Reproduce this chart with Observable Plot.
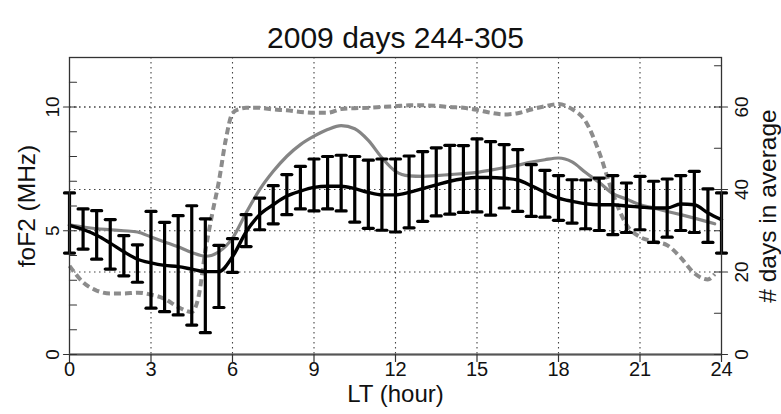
<!DOCTYPE html>
<html><head><meta charset="utf-8">
<script src="https://cdn.jsdelivr.net/npm/d3@7"></script>
<script src="https://cdn.jsdelivr.net/npm/@observablehq/plot@0.6"></script>
<style>body{margin:0;background:#fff;} svg{display:block;}</style>
</head><body><div id="chart"></div>
<script>
const title = "2009 days 244-305";
const xLabel = "LT (hour)";
const yLabelLeft = "foF2 (MHz)";
const yLabelRight = "# days in average";

const hours = [0,0.5,1,1.5,2,2.5,3,3.5,4,4.5,5,5.5,6,6.5,7,7.5,8,8.5,9,9.5,10,10.5,11,11.5,12,12.5,13,13.5,14,14.5,15,15.5,16,16.5,17,17.5,18,18.5,19,19.5,20,20.5,21,21.5,22,22.5,23,23.5,24];
const meanFoF2 = [5.22,5.05,4.82,4.50,4.15,3.85,3.70,3.60,3.55,3.45,3.35,3.35,3.95,4.95,5.65,6.05,6.40,6.60,6.75,6.80,6.80,6.70,6.55,6.45,6.45,6.55,6.70,6.85,7.00,7.10,7.15,7.15,7.12,7.05,6.82,6.55,6.32,6.19,6.09,6.05,6.05,6.00,5.96,5.92,5.92,6.08,6.05,5.72,5.45];
const upperFoF2 = [6.53,5.88,5.81,5.45,4.80,4.43,5.78,5.34,5.61,6.01,5.48,4.41,4.68,5.65,6.32,6.82,7.27,7.60,7.90,8.00,8.05,8.00,7.85,7.90,7.90,8.02,8.20,8.35,8.45,8.44,8.71,8.60,8.48,8.28,7.67,7.44,7.23,7.06,7.05,7.13,7.23,6.93,7.20,7.00,7.09,7.23,7.40,6.69,6.53];
const lowerFoF2 = [4.10,4.26,3.85,3.45,3.18,2.92,1.87,1.73,1.60,1.19,0.88,1.90,3.32,4.36,5.04,5.28,5.65,5.88,5.80,5.88,5.80,5.35,5.10,5.02,4.95,5.12,5.38,5.60,5.67,5.74,5.76,5.63,5.92,5.78,5.58,5.55,5.42,5.31,5.08,5.01,4.84,4.93,5.04,4.53,4.74,5.01,4.93,4.53,4.10];

const modelHours = [0,0.5,1,1.5,2,2.5,3,3.5,4,4.5,5,5.5,6,6.5,7,7.5,8,8.5,9,9.5,10,10.5,11,11.5,12,12.5,13,13.5,14,14.5,15,15.5,16,16.5,17,17.5,18,18.5,19,19.5,20,20.5,21,21.5,22,22.5,23,23.5,23.75];
const modelFoF2 = [5.24,5.15,5.08,5.04,5.00,4.95,4.75,4.55,4.35,4.12,3.97,4.15,4.70,5.72,6.66,7.40,8.01,8.48,8.82,9.09,9.25,9.12,8.65,7.95,7.40,7.22,7.20,7.23,7.27,7.31,7.36,7.45,7.55,7.65,7.77,7.87,7.94,7.78,7.35,6.95,6.50,6.28,6.05,5.92,5.78,5.65,5.51,5.36,5.28];

const countHours = [0,0.5,1,1.5,2,2.5,3,3.5,4,4.5,4.75,5,5.25,5.5,5.75,6,6.25,6.5,7,7.5,8,8.5,9,9.5,10,10.5,11,11.5,12,12.5,13,13.5,14,14.5,15,15.5,16,16.5,17,17.5,18,18.5,19,19.5,20,20.5,21,21.5,22,22.5,23,23.5,23.75];
const countDays = [21.5,17.5,15.5,14.8,14.8,15.0,14.5,13.5,11.5,10.3,14,25,34,42,52,58.5,59.5,59.8,59.8,59.4,59.2,58.8,58.6,58.6,59.5,59.7,59.8,60.0,60.2,60.4,60.4,60.3,60.0,59.8,59.3,58.6,58.2,58.5,59.4,60.2,60.7,59.5,56.5,49,39,31.5,28.5,27.4,26.5,23.5,19.7,18.2,19.5];

const xTicks = [0,3,6,9,12,15,18,21,24];
const yTicksLeft = [0,5,10];
const yMinorLeft = [0,1,2,3,4,5,6,7,8,9,10,11,12];
const yTicksRight = [0,20,40,60];
const yMinorRight = [0,10,20,30,40,50,60,70];
const daysPerMHz = 6;

const obs = hours.map((h, i) => ({h, mean: meanFoF2[i], hi: upperFoF2[i], lo: lowerFoF2[i]}));
const model = modelHours.map((h, i) => ({h, v: modelFoF2[i]}));
const counts = countHours.map((h, i) => ({h, d: countDays[i]}));
const gridYVals = [...yTicksLeft.filter(d => d > 0), ...yTicksRight.filter(d => d > 0).map(d => d / daysPerMHz)];
const gridXVals = xTicks.filter(d => d > 0 && d < 24);

const seg = {draw(ctx, l) { ctx.moveTo(0, 0); ctx.lineTo(0, -l); }};
const font = "'Liberation Sans', Arial, Helvetica, sans-serif";
const tickStyle = {shape: seg, stroke: "#333", strokeWidth: 1.2, anchor: "start"};

const chart = Plot.plot({
  width: 781, height: 414,
  marginLeft: 69, marginRight: 60, marginTop: 57, marginBottom: 60,
  style: {fontFamily: font, background: "#fff"},
  x: {domain: [0, 24], axis: null},
  y: {domain: [0, 12], axis: null},
  marks: [
    Plot.gridX(gridXVals, {stroke: "#444", strokeOpacity: 1, strokeWidth: 1.1, strokeDasharray: "1.5,3.5"}),
    Plot.gridY(gridYVals, {stroke: "#444", strokeOpacity: 1, strokeWidth: 1.1, strokeDasharray: "1.5,3.5"}),
    Plot.line(counts, {x: "h", y: d => d.d / daysPerMHz, stroke: "#8c8c8c", strokeWidth: 4, strokeDasharray: "7,4", strokeLinecap: "butt", strokeLinejoin: "miter", curve: "monotone-x"}),
    Plot.line(model, {x: "h", y: "v", stroke: "#858585", strokeWidth: 3.2, curve: "monotone-x"}),
    Plot.ruleX(obs, {x: "h", y1: "lo", y2: "hi", stroke: "#000", strokeWidth: 3.2}),
    Plot.vector(obs, {x: "h", y: "hi", rotate: 90, length: 10, anchor: "middle", shape: seg, stroke: "#000", strokeWidth: 3.2}),
    Plot.vector(obs, {x: "h", y: "lo", rotate: 90, length: 10, anchor: "middle", shape: seg, stroke: "#000", strokeWidth: 3.2}),
    Plot.line(obs, {x: "h", y: "mean", stroke: "#000", strokeWidth: 3.4, curve: "monotone-x"}),
    Plot.frame({stroke: "#333", strokeWidth: 1.3}),
    Plot.ruleY([0], {stroke: "#555", strokeWidth: 2}),
    // left ticks
    Plot.vector(yMinorLeft, {y: d => d, frameAnchor: "left", rotate: 90, length: 7, ...tickStyle}),
    Plot.vector(yTicksLeft, {y: d => d, frameAnchor: "left", rotate: -90, length: 6, ...tickStyle}),
    // right ticks
    Plot.vector(yMinorRight, {y: d => d / daysPerMHz, frameAnchor: "right", rotate: -90, length: 7, ...tickStyle}),
    Plot.vector(yTicksRight, {y: d => d / daysPerMHz, frameAnchor: "right", rotate: 90, length: 6, ...tickStyle}),
    // bottom ticks
    Plot.vector(xTicks, {x: d => d, frameAnchor: "bottom", rotate: 180, length: 7, ...tickStyle}),
    // tick labels
    Plot.text(xTicks, {x: d => d, text: d => String(d), frameAnchor: "bottom", textAnchor: "middle", dy: 21, fontSize: 20, fill: "#111"}),
    Plot.text(yTicksLeft, {y: d => d, text: d => String(d), frameAnchor: "left", textAnchor: "middle", dx: -17, rotate: -90, fontSize: 19, fill: "#111"}),
    Plot.text(yTicksRight, {y: d => d / daysPerMHz, text: d => String(d), frameAnchor: "right", textAnchor: "middle", dx: 20, rotate: -90, fontSize: 19, fill: "#111"}),
    // axis titles
    Plot.text([xLabel], {frameAnchor: "bottom", textAnchor: "middle", dy: 47, fontSize: 24, fill: "#111"}),
    Plot.text([yLabelLeft], {frameAnchor: "left", textAnchor: "middle", dx: -42, rotate: -90, fontSize: 24.5, fill: "#111"}),
    Plot.text([yLabelRight], {frameAnchor: "right", textAnchor: "middle", dx: 47, rotate: -90, fontSize: 24.5, fill: "#111"}),
    Plot.text([title], {frameAnchor: "top", textAnchor: "middle", dy: -31, fontSize: 30, fill: "#111"})
  ]
});
document.getElementById("chart").append(chart);
</script>
</body></html>
